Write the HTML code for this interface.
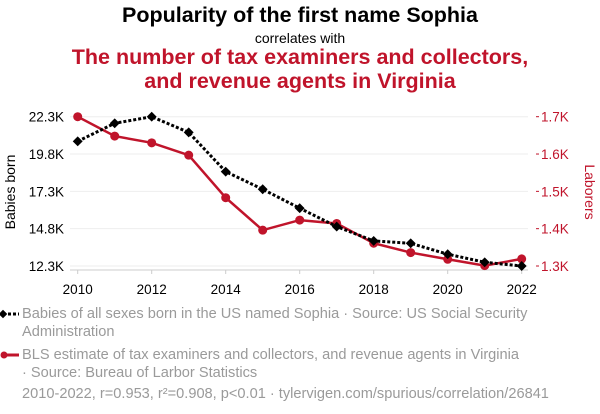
<!DOCTYPE html>
<html><head><meta charset="utf-8">
<style>
body{margin:0;width:600px;height:414px;background:#fff;font-family:"Liberation Sans",sans-serif;overflow:hidden;position:relative}
.t{position:absolute;left:0;width:600px;text-align:center}
.leg{position:absolute;left:22px;font-size:14.6px;color:#9a9a9a;line-height:18px}
</style></head><body>
<div class="t" style="top:3px;font-size:21.5px;font-weight:bold;color:#000">Popularity of the first name Sophia</div>
<div class="t" style="top:30px;font-size:14px;color:#000">correlates with</div>
<div class="t" style="top:45px;font-size:21.5px;font-weight:bold;color:#c0142b;line-height:24px">The number of tax examiners and collectors,<br>and revenue agents in Virginia</div>
<svg id="c" width="600" height="300" style="position:absolute;left:0;top:0"></svg>
<div class="leg" style="top:305px">Babies of all sexes born in the US named Sophia · Source: US Social Security<br>Administration</div>
<div class="leg" style="top:346px">BLS estimate of tax examiners and collectors, and revenue agents in Virginia<br>· Source: Bureau of Larbor Statistics</div>
<div class="leg" style="top:385px">2010-2022, r=0.953, r²=0.908, p&lt;0.01 · tylervigen.com/spurious/correlation/26841</div>
<svg width="22" height="90" style="position:absolute;left:0;top:305px">
<line x1="3" y1="9" x2="19" y2="9" stroke="#000" stroke-width="3" stroke-dasharray="3,2"/>
<rect x="0" y="6" width="6" height="6" fill="#000" transform="rotate(45 3 9)"/>
<line x1="4" y1="50" x2="19" y2="50" stroke="#c0142b" stroke-width="3"/>
<circle cx="4" cy="50" r="3.5" fill="#c0142b"/>
</svg>
<script>
const years=[2010,2011,2012,2013,2014,2015,2016,2017,2018,2019,2020,2021,2022];
const sophia=[20.65,21.86,22.3,21.25,18.62,17.44,16.17,14.94,13.98,13.82,13.09,12.55,12.3];
const laborers=[1.7,1.648,1.63,1.597,1.483,1.396,1.423,1.414,1.361,1.336,1.318,1.301,1.319];
const leftTicks=[12.3,14.8,17.3,19.8,22.3];
const leftLabels=["12.3K","14.8K","17.3K","19.8K","22.3K"];
const rightTicks=[1.3,1.4,1.5,1.6,1.7];
const rightLabels=["1.3K","1.4K","1.5K","1.6K","1.7K"];
const xTicks=[2010,2012,2014,2016,2018,2020,2022];
const NS="http://www.w3.org/2000/svg",svg=document.getElementById('c');
const X=v=>77.7+(v-2010)/12*444;
const YL=v=>266-(v-12.3)/10*149.3;
const YR=v=>266-(v-1.3)/0.4*149.3;
function mk(t,a,p){const e=document.createElementNS(NS,t);for(const k in a)e.setAttribute(k,a[k]);(p||svg).appendChild(e);return e;}
leftTicks.forEach((v,i)=>{
 const g=mk('line',{x1:70,x2:528,y1:YL(v),y2:YL(v),stroke:'#eee','stroke-width':1});
 
 
 const t=mk('text',{x:64,y:YL(v)+5,'text-anchor':'end','font-size':13.5,fill:'#000'});t.textContent=leftLabels[i];
 
 
});
rightTicks.forEach((v,i)=>{
 mk('line',{x1:536,x2:539,y1:YR(v),y2:YR(v),stroke:'#c0142b'});
 const t=mk('text',{x:541,y:YR(v)+5,'font-size':13.5,fill:'#c0142b'});t.textContent=rightLabels[i];
 
 
});
const ax=mk('line',{x1:70,x2:528,y1:270,y2:270,stroke:'#ccc'});


xTicks.forEach(v=>{
 mk('line',{x1:X(v),x2:X(v),y1:270,y2:274,stroke:'#ccc'});
 const t=mk('text',{x:X(v),y:294,'text-anchor':'middle','font-size':13.5,fill:'#000'});t.textContent=v;
 
 
});
let yt=mk('text',{x:15,y:192,'text-anchor':'middle','font-size':14,fill:'#000',transform:'rotate(-90 15 192)'});yt.textContent='Babies born';


let yr=mk('text',{x:585,y:192,'text-anchor':'middle','font-size':14,fill:'#c0142b',transform:'rotate(90 585 192)'});yr.textContent='Laborers';


const rl=mk('polyline',{points:years.map((y,i)=>X(y)+','+YR(laborers[i])).join(' '),fill:'none',stroke:'#c0142b','stroke-width':2.5});


years.forEach((y,i)=>{const c=mk('circle',{cx:X(y),cy:YR(laborers[i]),r:4.5,fill:'#c0142b'});
 
 });
const bl=mk('polyline',{points:years.map((y,i)=>X(y)+','+YL(sophia[i])).join(' '),fill:'none',stroke:'#000','stroke-width':3,'stroke-dasharray':'3,2'});


years.forEach((y,i)=>{const cx=X(y),cy=YL(sophia[i]);
 const r=mk('rect',{x:cx-3.5,y:cy-3.5,width:7,height:7,fill:'#000',transform:`rotate(45 ${cx} ${cy})`});
 
 });
</script>
</body></html>
